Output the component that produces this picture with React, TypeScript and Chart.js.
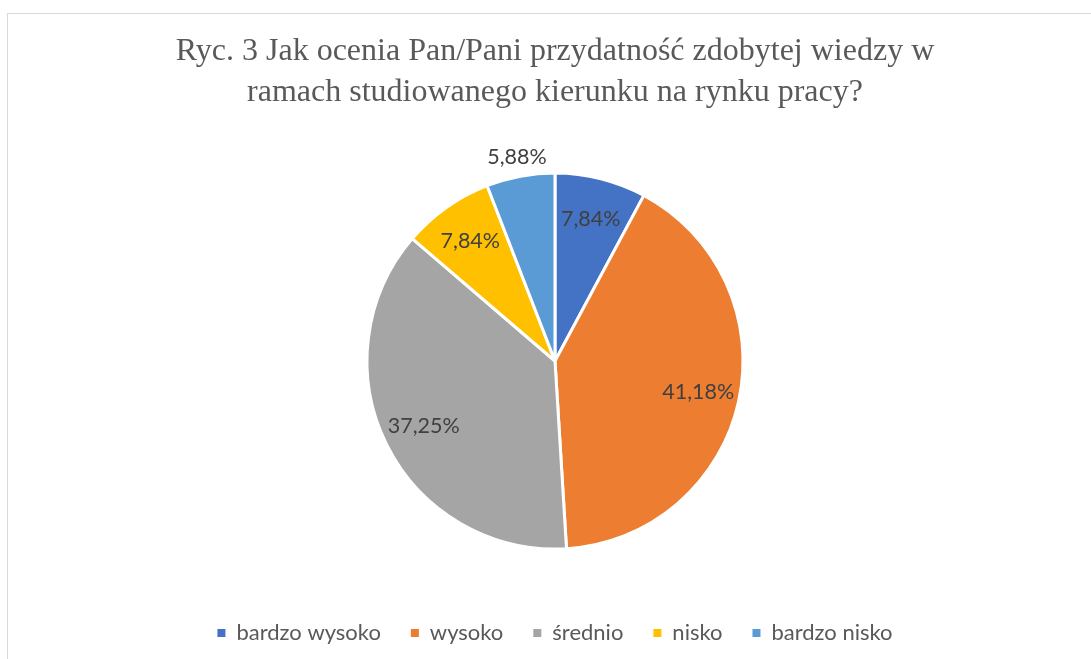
import React, { useEffect, useRef } from "react";
import { Chart, registerables } from "chart.js";

Chart.register(...registerables);

const TITLE_LINES = [
  "Ryc. 3 Jak ocenia Pan/Pani przydatność zdobytej wiedzy w",
  "ramach studiowanego kierunku na rynku pracy?",
];
const CATEGORIES = ["bardzo wysoko", "wysoko", "średnio", "nisko", "bardzo nisko"];
const PERCENTAGES = [7.84, 41.18, 37.25, 7.84, 5.88];
const COLORS = ["#4472C4", "#ED7D31", "#A5A5A5", "#FFC000", "#5B9BD5"];

const formatPct = (v: number) => v.toFixed(2).replace(".", ",") + "%";

const sliceLabels = {
  id: "sliceLabels",
  afterDatasetsDraw(chart: any) {
    const meta = chart.getDatasetMeta(0);
    const ctx = chart.ctx;
    const total = PERCENTAGES.reduce((a, b) => a + b, 0);
    ctx.save();
    ctx.font = "21.5px Lato";
    ctx.fillStyle = "#404040";
    ctx.textAlign = "center";
    ctx.textBaseline = "middle";
    meta.data.forEach((arc: any, i: number) => {
      const { x, y, startAngle, endAngle, outerRadius } = arc.getProps(
        ["x", "y", "startAngle", "endAngle", "outerRadius"],
        true
      );
      const mid = (startAngle + endAngle) / 2;
      const share = PERCENTAGES[i] / total;
      const r = share < 0.07 ? outerRadius + 19 : outerRadius * 0.78;
      ctx.fillText(formatPct(PERCENTAGES[i]), x + Math.cos(mid) * r, y + Math.sin(mid) * r);
    });
    ctx.restore();
  },
};

export default function App() {
  const canvasRef = useRef<HTMLCanvasElement | null>(null);

  useEffect(() => {
    if (!canvasRef.current) return;
    const chart = new Chart(canvasRef.current, {
      type: "pie",
      data: {
        labels: CATEGORIES,
        datasets: [
          {
            data: PERCENTAGES,
            backgroundColor: COLORS,
            borderColor: "#FFFFFF",
            borderWidth: 3,
          },
        ],
      },
      options: {
        responsive: false,
        animation: false,
        layout: { padding: { left: 11, right: 0, top: 0, bottom: 5 } },
        plugins: {
          title: {
            display: true,
            text: TITLE_LINES,
            color: "#595959",
            font: {
              family: "'Liberation Serif', 'Times New Roman', serif",
              size: 32,
              weight: "normal",
              lineHeight: 41 / 32,
            },
            padding: { top: 17.5, bottom: 58 },
          },
          legend: {
            position: "bottom",
            title: {
              display: true,
              text: "",
              padding: { top: 31.5, bottom: 0 },
              font: { size: 10, lineHeight: 1 },
            },
            labels: {
              boxWidth: 8,
              boxHeight: 8,
              padding: 30,
              color: "#595959",
              font: { family: "Lato", size: 22 },
              generateLabels: () =>
                CATEGORIES.map((c, i) => ({
                  text: c,
                  fillStyle: COLORS[i],
                  strokeStyle: COLORS[i],
                  lineWidth: 0,
                  hidden: false,
                  index: i,
                  fontColor: "#595959",
                })),
            },
          },
          tooltip: { enabled: false },
        },
      },
      plugins: [sliceLabels],
    } as any);
    return () => chart.destroy();
  }, []);

  return (
    <div
      style={{
        position: "absolute",
        left: 7,
        top: 13,
        borderLeft: "1px solid #d9d9d9",
        borderTop: "1px solid #d9d9d9",
        width: 1083,
        height: 645,
        background: "#fff",
      }}
    >
      <canvas ref={canvasRef} width={1083} height={645} style={{ display: "block" }} />
    </div>
  );
}
